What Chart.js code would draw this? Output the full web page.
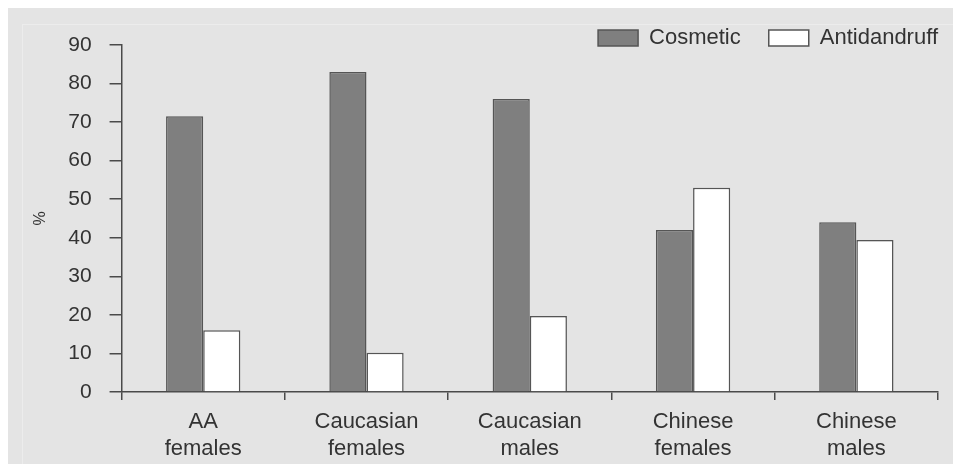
<!DOCTYPE html>
<html>
<head>
<meta charset="utf-8">
<script src="https://cdn.jsdelivr.net/npm/chart.js@4"></script>
<style>
  body { margin: 0; background: #ffffff; }
  #wrap { position: absolute; left: 8px; top: 8px; width: 945px; height: 456px; background: #e4e4e4; }
  #frame { position: absolute; left: 14px; top: 16px; right: 0; bottom: 0; border-left: 1px solid #ececec; border-top: 1px solid #ececec; }
</style>
</head>
<body>
<div id="wrap">
  <div id="frame"></div>
  <canvas id="myChart"></canvas>
</div>
<script>
// data
const groups = [['AA', 'females'], ['Caucasian', 'females'], ['Caucasian', 'males'], ['Chinese', 'females'], ['Chinese', 'males']];
const cosmetic = [71.5, 83, 76, 42, 44];
const antidandruff = [16, 10.2, 19.7, 53, 39.4];
const seriesNames = ['Cosmetic', 'Antidandruff'];

const ctx = document.getElementById('myChart');
const ink = '#4a4a4a';

// legend sits partly over the plot top in the original, nudge it there
const legendNudge = {
  id: 'legendNudge',
  afterLayout(chart) {
    const l = chart.legend;
    l.top += 14; l.bottom += 14;
    l.left += 28; l.right += 28;
  }
};

new Chart(ctx, {
  type: 'bar',
  data: {
    labels: groups,
    datasets: [{
      label: seriesNames[0],
      data: cosmetic,
      backgroundColor: '#7f7f7f',
      borderColor: '#555555',
      borderWidth: 1.5,
      categoryPercentage: 0.455,
      barPercentage: 1.0
    }, {
      label: seriesNames[1],
      data: antidandruff,
      backgroundColor: '#ffffff',
      borderColor: '#555555',
      borderWidth: 1.5,
      categoryPercentage: 0.455,
      barPercentage: 1.0
    }]
  },
  plugins: [legendNudge],
  options: {
    responsive: true,
    maintainAspectRatio: false,
    animation: false,
    events: [],
    layout: { padding: { left: 19, right: 15, top: -23, bottom: -7 } },
    plugins: {
      tooltip: { enabled: false },
      legend: {
        position: 'top',
        align: 'end',
        labels: {
          boxWidth: 40,
          boxHeight: 16,
          padding: 28,
          color: '#333',
          font: { family: 'Liberation Sans', size: 22, lineHeight: 1 }
        }
      }
    },
    scales: {
      x: {
        border: { display: true, color: ink, width: 1.5 },
        grid: { display: true, drawOnChartArea: false, drawTicks: true, tickLength: 8, color: ink, lineWidth: 1.5 },
        ticks: { color: '#333', padding: 8, maxRotation: 0, font: { family: 'Liberation Sans', size: 22, lineHeight: 1.25 } }
      },
      y: {
        min: 0,
        max: 90,
        border: { display: true, color: ink, width: 1.5 },
        grid: { display: true, drawOnChartArea: false, drawTicks: true, tickLength: 12, color: ink, lineWidth: 1.5 },
        ticks: { stepSize: 10, color: '#333', padding: 18, font: { family: 'Liberation Sans', size: 21 } },
        title: { display: true, text: '%', color: '#333', padding: { top: 4, bottom: 0 }, font: { family: 'Liberation Sans', size: 16 } }
      }
    }
  }
});
</script>
</body>
</html>
